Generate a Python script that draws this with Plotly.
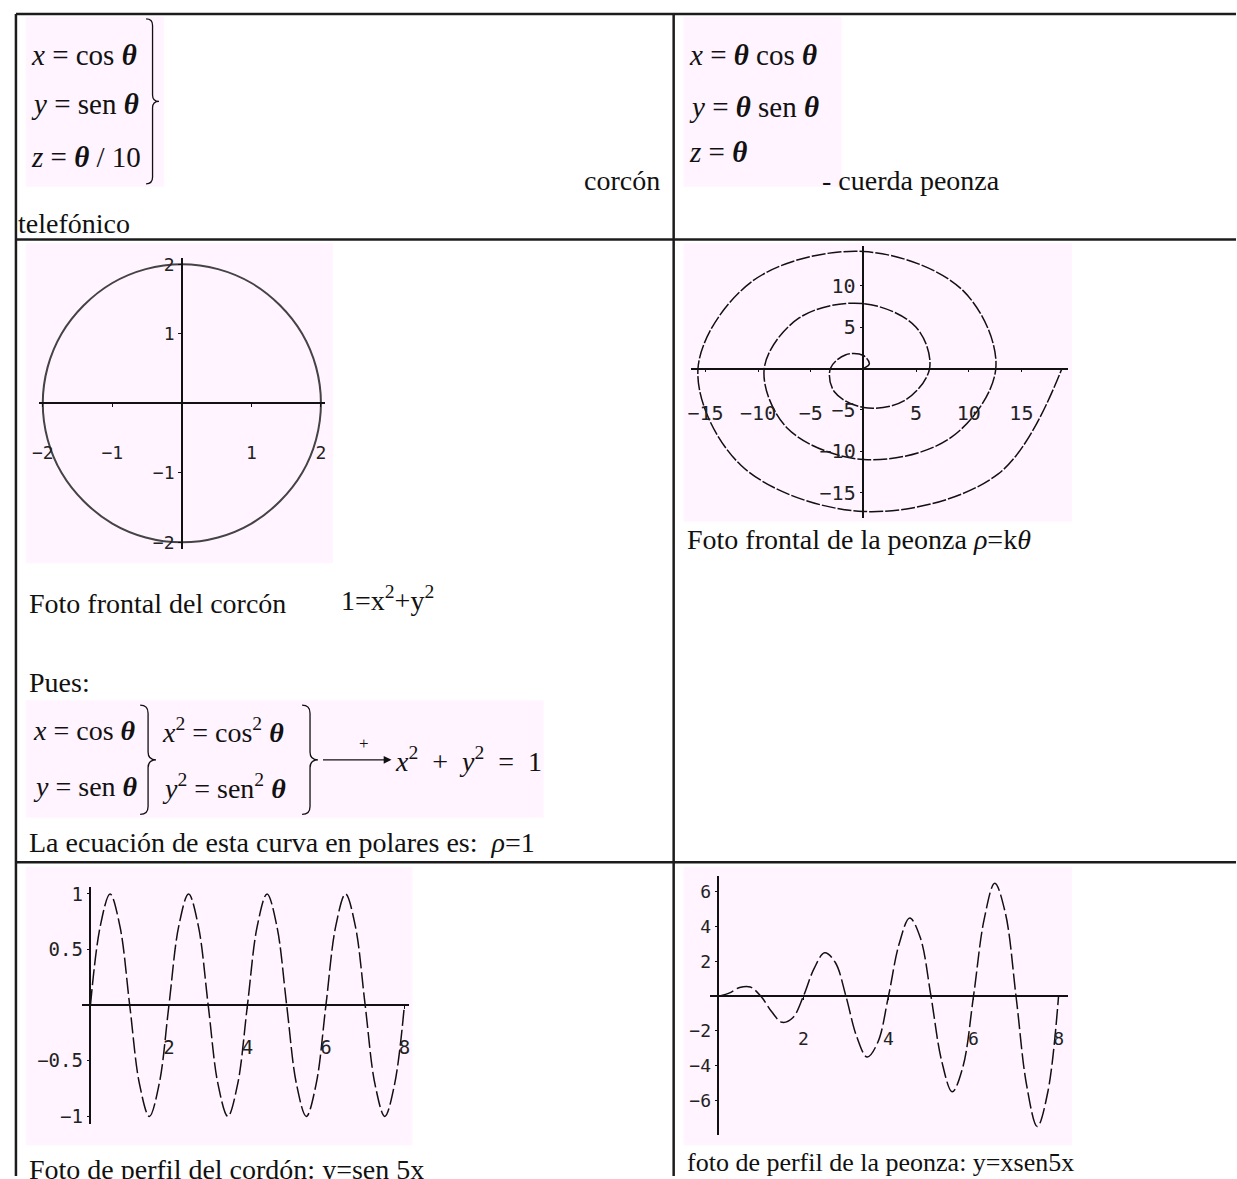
import plotly.graph_objects as go

W, H = 1237, 1179

# ---------------------------------------------------------------- data
# Frontal view of the phone cord: circle of radius 2 (sampled every 15 degrees)
circle_x = [2.00, 1.93, 1.73, 1.41, 1.00, 0.52, 0.00, -0.52, -1.00, -1.41, -1.73, -1.93,
            -2.00, -1.93, -1.73, -1.41, -1.00, -0.52, 0.00, 0.52, 1.00, 1.41, 1.73, 1.93, 2.00]
circle_y = [0.00, 0.52, 1.00, 1.41, 1.73, 1.93, 2.00, 1.93, 1.73, 1.41, 1.00, 0.52,
            0.00, -0.52, -1.00, -1.41, -1.73, -1.93, -2.00, -1.93, -1.73, -1.41, -1.00, -0.52, 0.00]

# Frontal view of the spinning top: spiral rho = k*theta (every eighth of a turn)
spiral_x = [0.00, 0.56, 0.00, -1.67, -3.14, -2.78, 0.00, 3.89, 6.28, 5.00, 0.00, -6.11, -9.42,
            -7.22, 0.00, 8.33, 12.57, 9.44, 0.00, -10.55, -15.71, -11.66, 0.00, 12.77, 18.85]
spiral_y = [0.00, 0.56, 1.57, 1.67, 0.00, -2.78, -4.71, -3.89, 0.00, 5.00, 7.85, 6.11, 0.00,
            -7.22, -11.00, -8.33, 0.00, 9.44, 14.14, 10.55, 0.00, -11.66, -17.28, -12.77, 0.00]

# Side view of the cord
wave_x = [0, 0.25, 0.5, 0.75, 1, 1.25, 1.5, 1.75, 2, 2.25, 2.5, 2.75, 3, 3.25, 3.5, 3.75,
          4, 4.25, 4.5, 4.75, 5, 5.25, 5.5, 5.75, 6, 6.25, 6.5, 6.75, 7, 7.25, 7.5, 7.75, 8]
wave_y = [0, 0.71, 1, 0.71, 0, -0.71, -1, -0.71, 0, 0.71, 1, 0.71, 0, -0.71, -1, -0.71,
          0, 0.71, 1, 0.71, 0, -0.71, -1, -0.71, 0, 0.71, 1, 0.71, 0, -0.71, -1, -0.71, 0]

# Side view of the spinning top string
grow_x = [0, 0.25, 0.5, 0.75, 1, 1.25, 1.5, 1.75, 2, 2.25, 2.5, 2.75, 3, 3.25, 3.5, 3.75,
          4, 4.25, 4.5, 4.75, 5, 5.25, 5.5, 5.75, 6, 6.25, 6.5, 6.75, 7, 7.25, 7.5, 7.75, 8]
grow_y = [0, 0.18, 0.5, 0.53, 0, -0.88, -1.5, -1.24, 0, 1.59, 2.5, 1.94, 0, -2.30, -3.5, -2.65,
          0, 3.00, 4.5, 3.36, 0, -3.71, -5.5, -4.07, 0, 4.42, 6.5, 4.77, 0, -5.13, -7.5, -5.48, 0]

# tick values / labels
circle_xticks = [-2, -1, 1, 2]
circle_yticks = [-2, -1, 1, 2]
spiral_xticks = [-15, -10, -5, 5, 10, 15]
spiral_yticks = [-15, -10, -5, 5, 10]
wave_xticks = [2, 4, 6, 8]
wave_yticks = [-1, -0.5, 0.5, 1]
wave_yticktext = ["\u22121", "\u22120.5", "0.5", "1"]
grow_xticks = [2, 4, 6, 8]
grow_yticks = [-6, -4, -2, 2, 4, 6]

# ---------------------------------------------------------------- helpers
def fx(p):
    return p / W


def fy(p):
    return 1 - p / H


PINK = "#FFF4FF"
INK = "#111111"

fig = go.Figure()
shapes = []
annotations = []


def panel(n, ox, oy, sx, sy, left, right, top, bottom, xticks, yticks,
          fsize, xstand, ytext=None):
    """Cartesian axes crossing at the origin, placed at pixel box."""
    xr = [(left - ox) / sx, (right - ox) / sx]
    yr = [(oy - bottom) / sy, (oy - top) / sy]
    tf = dict(family="DejaVu Sans Mono", size=fsize, color="#222")
    common = dict(showgrid=False, zeroline=False, showline=True, linecolor=INK,
                  linewidth=1.5, ticks="outside", ticklen=3, tickcolor=INK,
                  tickfont=tf, anchor="free", fixedrange=True)
    suffix = "" if n == 1 else str(n)
    fig.layout["xaxis" + suffix] = dict(
        common, domain=[fx(left), fx(right)], range=xr, position=fy(oy),
        tickvals=xticks, ticktext=[str(v).replace("-", "\u2212") for v in xticks],
        ticklabelstandoff=xstand)
    fig.layout["yaxis" + suffix] = dict(
        common, domain=[fy(bottom), fy(top)], range=yr, position=fx(ox),
        tickvals=yticks,
        ticktext=ytext if ytext else [str(v).replace("-", "\u2212") for v in yticks])


def pink(x0, y0, x1, y1):
    shapes.append(dict(type="rect", xref="paper", yref="paper", x0=fx(x0), x1=fx(x1),
                       y0=fy(y1), y1=fy(y0), fillcolor=PINK, line=dict(width=0),
                       layer="below"))


def hline(y, x0, x1):
    shapes.append(dict(type="line", xref="paper", yref="paper", x0=fx(x0), x1=fx(x1),
                       y0=fy(y), y1=fy(y), line=dict(color="#1c1c1c", width=2.5)))


def vline(x, y0, y1):
    shapes.append(dict(type="line", xref="paper", yref="paper", x0=fx(x), x1=fx(x),
                       y0=fy(y0), y1=fy(y1), line=dict(color="#1c1c1c", width=2.5)))


def brace(x, top, bot, w):
    """Right curly brace with its tip pointing right."""
    mid = (top + bot) / 2
    r = w / 2
    xm = x + w / 2
    pts = [("M", (x, top)), ("Q", (xm, top), (xm, top + r)), ("L", (xm, mid - r)),
           ("Q", (xm, mid), (x + w, mid)), ("Q", (xm, mid), (xm, mid + r)),
           ("L", (xm, bot - r)), ("Q", (xm, bot), (x, bot))]
    path = ""
    for cmd, *coords in pts:
        path += cmd + " " + " ".join(f"{fx(a):.5f},{fy(b):.5f}" for a, b in coords) + " "
    shapes.append(dict(type="path", xref="paper", yref="paper", path=path.strip(),
                       line=dict(color=INK, width=1.3)))


def text(t, x, y, size=28, anchor="left", family="Liberation Serif"):
    annotations.append(dict(text=t, x=fx(x), y=fy(y), xref="paper", yref="paper",
                            xanchor=anchor, yanchor="middle", showarrow=False,
                            font=dict(family=family, size=size, color=INK)))


TH = "<b><i>θ</i></b>"
NB = "\u00a0"

# ---------------------------------------------------------------- table grid
hline(9, 9, W)
hline(236, 9, W)
hline(863, 9, W)
vline(9, 9, H)
vline(671, 9, H)

# ---------------------------------------------------------------- row 1
pink(19, 12, 158, 183)
text(f"<i>x</i> = cos {TH}", 22, 50, size=29)
text(f"<i>y</i> = sen {TH}", 22, 100, size=29)
text(f"<i>z</i> = {TH} / 10", 22, 153, size=29)
brace(140, 14, 180, 13)
text("corcón", 659, 177, anchor="right")
text("telefónico", 9, 220)

pink(681, 12, 840, 183)
text(f"<i>x</i> = {TH} cos {TH}", 684, 50, size=29)
text(f"<i>y</i> = {TH} sen {TH}", 684, 103, size=29)
text(f"<i>z</i> = {TH}", 684, 148, size=29)
text("- cuerda peonza", 818, 177)

# ---------------------------------------------------------------- row 2
pink(19, 240, 328, 562)
panel(1, 176, 401, 70, 70, 32, 320, 255, 548, circle_xticks, circle_yticks, 18, 30)
fig.add_trace(go.Scatter(x=circle_x, y=circle_y, mode="lines", xaxis="x", yaxis="y",
                         line=dict(shape="spline", smoothing=1, color="#444", width=2),
                         showlegend=False, hoverinfo="skip"))

text("Foto frontal del corcón", 20, 603)
text("1=x<sup>2</sup>+y<sup>2</sup>", 334, 598)
text("Pues:", 20, 682)

pink(19, 700, 540, 818)
text(f"<i>x</i> = cos {TH}", 24, 730)
text(f"<i>y</i> = sen {TH}", 24, 787)
brace(134, 705, 815, 16)
text(f"<i>x</i><sup>2</sup> = cos<sup>2</sup> {TH}", 154, 730)
text(f"<i>y</i><sup>2</sup> = sen<sup>2</sup> {TH}", 154, 787)
brace(297, 705, 815, 16)
annotations.append(dict(x=fx(387), y=fy(760), ax=-70, ay=0, xref="paper", yref="paper",
                        axref="pixel", ayref="pixel", showarrow=True, arrowhead=2,
                        arrowsize=1.3, arrowwidth=1.2, arrowcolor=INK, text=""))
text("+", 352, 744, size=17)
text(f"<i>x</i><sup>2</sup>{NB}{NB}+{NB}{NB}<i>y</i><sup>2</sup>{NB}{NB}={NB}{NB}1",
     389, 760)
text(f"La ecuación de esta curva en polares es:{NB}{NB}<i>ρ</i>=1", 20, 843)

pink(681, 240, 1072, 520)
panel(2, 862, 366, 10.6, 8.33, 688, 1068, 243, 517, spiral_xticks, spiral_yticks, 20, 24)
fig.add_trace(go.Scatter(x=spiral_x, y=spiral_y, mode="lines", xaxis="x2", yaxis="y2",
                         line=dict(shape="spline", smoothing=1, color=INK, width=1.5,
                                   dash="14px,2px"),
                         showlegend=False, hoverinfo="skip"))
text("Foto frontal de la peonza <i>ρ</i>=k<i>θ</i>", 682, 538)

# ---------------------------------------------------------------- row 3
pink(19, 868, 408, 1148)
panel(3, 84, 1007, 39.5, 112, 75, 405, 888, 1127, wave_xticks, wave_yticks, 19, 22,
      ytext=wave_yticktext)
fig.add_trace(go.Scatter(x=wave_x, y=wave_y, mode="lines", xaxis="x3", yaxis="y3",
                         line=dict(shape="spline", smoothing=1, color=INK, width=1.5,
                                   dash="16px,4px"),
                         showlegend=False, hoverinfo="skip"))
text("Foto de perfil del cordón: y=sen 5x", 20, 1172)

pink(681, 868, 1072, 1148)
panel(4, 716, 998, 42.8, 17.5, 708, 1068, 877, 1138, grow_xticks, grow_yticks, 18, 23)
fig.add_trace(go.Scatter(x=grow_x, y=grow_y, mode="lines", xaxis="x4", yaxis="y4",
                         line=dict(shape="spline", smoothing=1, color=INK, width=1.5,
                                   dash="16px,4px"),
                         showlegend=False, hoverinfo="skip"))
text("foto de perfil de la peonza: y=xsen5x", 682, 1165, size=26)

fig.update_layout(width=W, height=H, margin=dict(l=0, r=0, t=0, b=0),
                  paper_bgcolor="white", plot_bgcolor="rgba(0,0,0,0)",
                  shapes=shapes, annotations=annotations, showlegend=False,
                  dragmode=False)

# pin the figure to the top-left corner of the page
PIN = ("document.documentElement.style.margin='0';"
       "document.body.style.margin='0';"
       "var d=document.getElementById('{plot_id}');"
       "d.style.position='fixed';d.style.left='0px';d.style.top='0px';")
fig.write_html("out.html", post_script=PIN)
